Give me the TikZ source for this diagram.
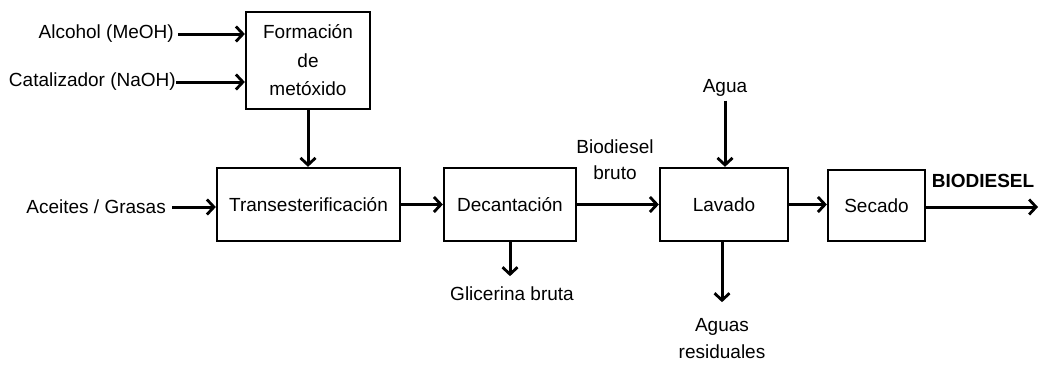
\documentclass[tikz,border=0pt]{standalone}
\usepackage{fontspec}
\setmainfont{Liberation Sans}
\usetikzlibrary{arrows.meta,positioning}
\begin{document}
\begin{tikzpicture}[x=1pt,y=-1pt,
  procbox/.style={draw,line width=2.3pt,inner sep=0pt},
  lbl/.style={font=\fontsize{19}{26}\selectfont,align=center,inner sep=0pt},
  flow/.style={line width=3pt,-{Straight Barb[length=7pt,width=15pt,line width=2.8pt]}}]
\useasboundingbox (0,0) rectangle (1040,367);
% boxes
\node[procbox,minimum width=124pt,minimum height=97pt] (form) at (308,60.5) {};
\node[lbl,font=\fontsize{19}{28.5}\selectfont] at (form.center) {Formación\\de\\metóxido};
\node[procbox,minimum width=183pt,minimum height=73pt] (trans) at (308.5,204.5) {};
\node[lbl] at (trans.center) {Transesterificación};
\node[procbox,minimum width=132pt,minimum height=73pt] (dec) at (510,204.5) {};
\node[lbl] at (dec.center) {Decantación};
\node[procbox,minimum width=128pt,minimum height=73pt] (lav) at (724,204.5) {};
\node[lbl] at (lav.center) {Lavado};
\node[procbox,minimum width=97pt,minimum height=71pt] (sec) at (876.5,205.5) {};
\node[lbl] at (sec.center) {Secado};
% input labels
\node[lbl,anchor=east] (alc) at (174,34) {Alcohol (MeOH)};
\node[lbl,anchor=east] (cat) at (176,82) {Catalizador (NaOH)};
\node[lbl,anchor=east] (ace) at (166,207) {Aceites / Grasas};
\node[lbl] (agua) at (725,88) {Agua};
\node[lbl] (bb) at (615,160) {Biodiesel\\bruto};
\node[lbl] (glic) at (512,294) {Glicerina bruta};
\node[lbl,font=\fontsize{19}{27}\selectfont] (aguas) at (722,339) {Aguas\\residuales};
\node[lbl,font=\fontsize{19}{25}\selectfont\bfseries] (bio) at (983,181) {BIODIESEL};
\coordinate (out) at (1038,207);
% arrows
\draw[flow] (alc.east)+(4,0) -- (form.west |- alc.east);
\draw[flow] (cat.east) -- (form.west |- cat.east);
\draw[flow] (form.south) -- (trans.north -| form.south);
\draw[flow] (ace.east)+(6,0) -- (trans.west |- ace.east);
\draw[flow] (trans.east) -- (dec.west);
\draw[flow] (dec.east) -- (lav.west);
\draw[flow] (lav.east) -- (sec.west |- lav.east);
\draw[flow] (sec.east |- out) -- (out);
\draw[flow] (agua.south)+(0,4) -- (lav.north -| agua.south);
\draw[flow] (dec.south) -- ++(0,34);
\draw[flow] (lav.south -| aguas.north) -- ++(0,60);
\end{tikzpicture}
\end{document}
